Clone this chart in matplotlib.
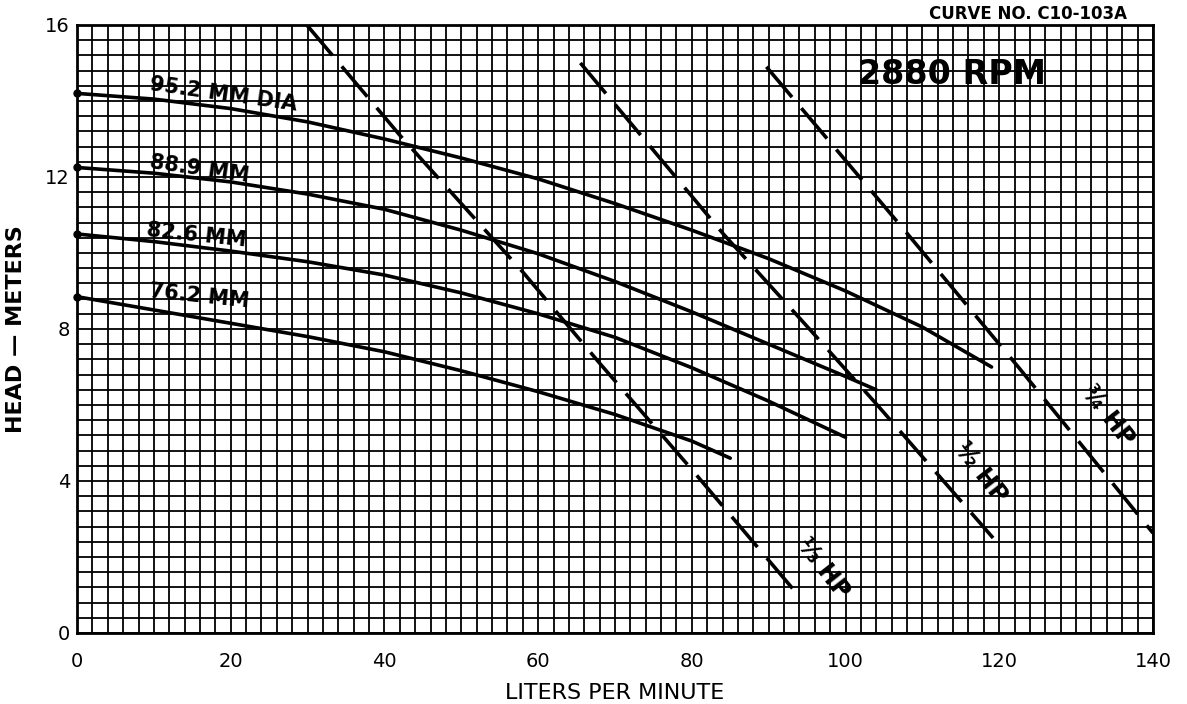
import numpy as np
import matplotlib
matplotlib.use('Agg')
import matplotlib.pyplot as plt

# head-capacity curves (liters per minute vs head in meters)
lpm_952 = [0, 10, 20, 30, 40, 50, 60, 70, 80, 90, 100, 110, 119]
head_952 = [14.2, 14.05, 13.8, 13.45, 13.0, 12.5, 11.95, 11.3, 10.6, 9.85, 9.0, 8.05, 7.0]

lpm_889 = [0, 10, 20, 30, 40, 50, 60, 70, 80, 90, 100, 104]
head_889 = [12.25, 12.1, 11.87, 11.55, 11.15, 10.6, 9.98, 9.25, 8.45, 7.6, 6.75, 6.4]

lpm_826 = [0, 10, 20, 30, 40, 50, 60, 70, 80, 90, 100]
head_826 = [10.5, 10.3, 10.05, 9.77, 9.42, 8.95, 8.4, 7.78, 6.98, 6.1, 5.15]

lpm_762 = [0, 10, 20, 30, 40, 50, 60, 70, 80, 85]
head_762 = [8.85, 8.5, 8.15, 7.8, 7.4, 6.9, 6.35, 5.75, 5.05, 4.6]

# horsepower lines
lpm_hp13 = [29.9, 42, 58, 68, 80, 93.4]
head_hp13 = [16.0, 13.1, 9.5, 7.1, 4.3, 1.1]

lpm_hp12 = [65.5, 84.1, 95.3, 104.3, 119.2]
head_hp12 = [15.0, 10.5, 8.0, 5.96, 2.5]

lpm_hp34 = [89.7, 107.5, 122.6, 140]
head_hp34 = [14.9, 10.64, 6.97, 2.63]

fig = plt.figure(figsize=(11.87, 7.04), dpi=100)
ax = fig.add_axes([0.0649, 0.1009, 0.9064, 0.8636])

ax.set_xlim(0, 140)
ax.set_ylim(0, 16)
ax.set_xticks(np.arange(0, 141, 20))
ax.set_yticks(np.arange(0, 17, 4))
ax.set_xticks(np.arange(0, 141, 2), minor=True)
ax.set_yticks(np.arange(0, 16.01, 0.4), minor=True)
ax.grid(which='both', color='black', linewidth=1.3)
ax.set_axisbelow(True)
ax.tick_params(which='both', length=0)
ax.tick_params(axis='x', pad=14, labelsize=14)
ax.tick_params(axis='y', pad=5, labelsize=14)
for s in ax.spines.values():
    s.set_linewidth(2)

for x, y in [(lpm_952, head_952), (lpm_889, head_889), (lpm_826, head_826), (lpm_762, head_762)]:
    ax.plot(x, y, color='black', linewidth=2.6, solid_capstyle='round')
    ax.plot(x[0], y[0], 'o', color='black', markersize=5, clip_on=False)

for x, y in [(lpm_hp13, head_hp13), (lpm_hp12, head_hp12), (lpm_hp34, head_hp34)]:
    ax.plot(x, y, color='black', linewidth=2.6, dashes=(11, 4))

lab = dict(fontsize=15, fontweight='bold', ha='left', va='center', rotation_mode='anchor')
ax.text(9.5, 14.45, '95.2 MM DIA', rotation=-8, **lab)
ax.text(9.5, 12.4, '88.9 MM', rotation=-8, **lab)
ax.text(9.0, 10.6, '82.6 MM', rotation=-6, **lab)
ax.text(9.5, 9.0, '76.2 MM', rotation=-6, **lab)

hp = dict(fontsize=17, fontweight='bold', ha='center', va='center', rotation=-52)
ax.text(97.1, 1.7, '⅓ HP', **hp)
ax.text(117.6, 4.2, '½ HP', **hp)
ax.text(134.1, 5.7, '¾ HP', **hp)

ax.text(113.8, 14.7, '2880 RPM', fontsize=24, fontweight='bold', ha='center', va='center')
fig.text(0.866, 0.980, 'CURVE NO. C10-103A', fontsize=12, fontweight='bold', ha='center', va='center')

ax.set_xlabel('LITERS PER MINUTE', fontsize=16, labelpad=8)
ax.set_ylabel('HEAD — METERS', fontsize=16, fontweight='bold', labelpad=14)

plt.savefig('out.png', dpi=100)
